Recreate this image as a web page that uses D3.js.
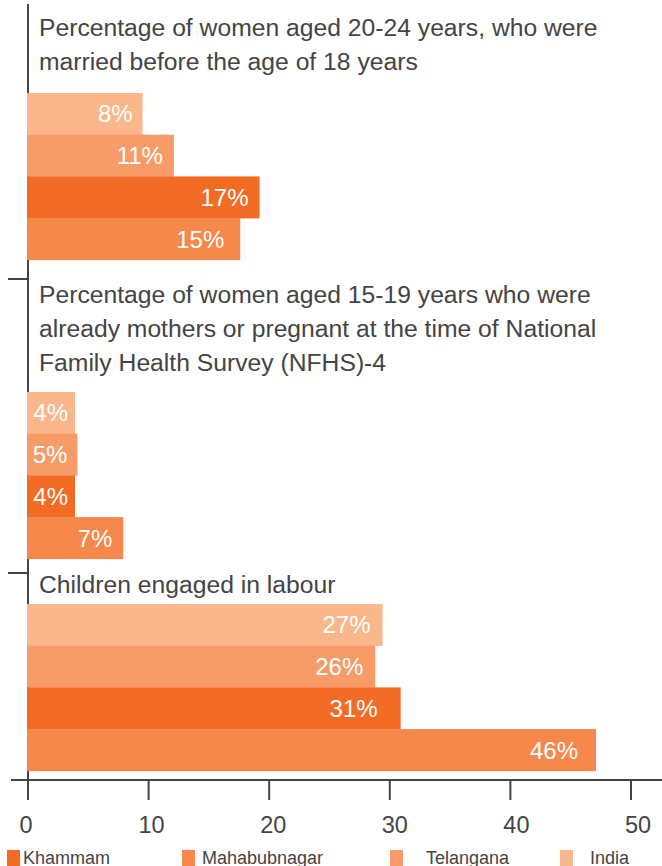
<!DOCTYPE html>
<html>
<head>
<meta charset="utf-8">
<script src="https://cdn.jsdelivr.net/npm/d3@7"></script>
<style>
  body { margin: 0; background: #fff; }
  svg { display: block; font-family: "Liberation Sans", Arial, sans-serif; }
</style>
</head>
<body>
<div id="chart"></div>
<script>
// bar order top to bottom inside each group
const series = ['India', 'Telangana', 'Khammam', 'Mahabubnagar'];
const legendOrder = ['Khammam', 'Mahabubnagar', 'Telangana', 'India'];
const colors = ['#f9b78b', '#f79b69', '#f36c25', '#f5884a'];

const titles = [
  ['Percentage of women aged 20-24 years, who were', 'married before the age of 18 years'],
  ['Percentage of women aged 15-19 years who were', 'already mothers or pregnant at the time of National', 'Family Health Survey (NFHS)-4'],
  ['Children engaged in labour']
];

// bar lengths as drawn, one per group
const indiaValues = [9.5, 3.9, 29.4];
const telanganaValues = [12.1, 4.1, 28.8];
const khammamValues = [19.2, 3.9, 30.9];
const mahabubnagarValues = [17.6, 7.9, 47.1];

// printed labels
const indiaLabels = ['8%', '4%', '27%'];
const telanganaLabels = ['11%', '5%', '26%'];
const khammamLabels = ['17%', '4%', '31%'];
const mahabubnagarLabels = ['15%', '7%', '46%'];

const xTicks = [0, 10, 20, 30, 40, 50];

const values = [indiaValues, telanganaValues, khammamValues, mahabubnagarValues];
const labels = [indiaLabels, telanganaLabels, khammamLabels, mahabubnagarLabels];

const width = 662, height = 866;
const axisColor = '#444';
const textColor = '#444';

// layout of the three groups
const bandEdges = [4, 279, 573, 780];
const titleFirstBaseline = [35.7, 302.7, 592.7];
const lineH = 34;
const barsTop = [93, 392, 604];
const barH = 41.7;
// gap between bar end and its label, per series then group
const labelPad = [[10, 7, 12], [11, 10, 12], [11, 7, 23], [16, 11, 18]];

const x = d3.scaleLinear().domain([0, 50]).range([28, 631]);

const svg = d3.select('#chart').append('svg')
  .attr('width', width).attr('height', height);

// axes first so the bars cover the axis line
svg.append('line')
  .attr('x1', 28).attr('x2', 28)
  .attr('y1', bandEdges[0]).attr('y2', 800)
  .attr('stroke', axisColor).attr('stroke-width', 2);

svg.selectAll('.ytick')
  .data(bandEdges.slice(1, 3))
  .enter().append('line')
  .attr('class', 'ytick')
  .attr('x1', 8).attr('x2', 28)
  .attr('y1', d => d).attr('y2', d => d)
  .attr('stroke', axisColor).attr('stroke-width', 2);

const xAxis = svg.append('g').attr('transform', 'translate(0,' + bandEdges[3] + ')');
xAxis.append('line')
  .attr('x1', 11).attr('x2', width)
  .attr('stroke', axisColor).attr('stroke-width', 2);
xAxis.selectAll('.xtick')
  .data(xTicks)
  .enter().append('line')
  .attr('x1', d => x(d)).attr('x2', d => x(d))
  .attr('y1', 0).attr('y2', 20)
  .attr('stroke', axisColor).attr('stroke-width', 2);
xAxis.selectAll('.xlabel')
  .data(xTicks)
  .enter().append('text')
  .attr('x', d => x(d) + (d === 0 ? -2 : 2 + d / 10))
  .attr('y', 53)
  .attr('text-anchor', 'middle')
  .attr('fill', textColor)
  .style('font-size', '23.5px')
  .text(d => d);

titles.forEach(function (lines, gi) {
  const g = svg.append('g');

  g.selectAll('text.title')
    .data(lines)
    .enter().append('text')
    .attr('x', 39)
    .attr('y', (d, i) => titleFirstBaseline[gi] + i * lineH)
    .attr('fill', textColor)
    .style('font-size', '24.7px')
    .text(d => d);

  const y = d3.scaleBand().domain(series).range([barsTop[gi], barsTop[gi] + barH * series.length]);

  const rows = series.map((s, i) => ({
    s: s, v: values[i][gi], label: labels[i][gi], color: colors[i], pad: labelPad[i][gi]
  }));

  g.selectAll('rect')
    .data(rows)
    .enter().append('rect')
    .attr('x', x(0) - 1)
    .attr('y', d => y(d.s))
    .attr('width', d => x(d.v) - x(0) + 1)
    .attr('height', y.bandwidth() + 0.3)
    .attr('fill', d => d.color);

  g.selectAll('text.val')
    .data(rows)
    .enter().append('text')
    .attr('class', 'val')
    .attr('x', d => x(d.v) - d.pad)
    .attr('y', d => y(d.s) + y.bandwidth() / 2)
    .attr('dy', '0.36em')
    .attr('text-anchor', 'end')
    .attr('fill', '#fff')
    .style('font-size', '24px')
    .text(d => d.label);
});

// legend
const legendX = [7, 182, 390, 560];
const legendTextX = [23, 202, 426, 590];
const legend = svg.append('g');
legendOrder.forEach(function (name, i) {
  legend.append('rect')
    .attr('x', legendX[i]).attr('y', 850)
    .attr('width', 13).attr('height', 16)
    .attr('fill', colors[series.indexOf(name)]);
  legend.append('text')
    .attr('x', legendTextX[i]).attr('y', 864)
    .attr('fill', textColor)
    .style('font-size', '18px')
    .text(name);
});
</script>
</body>
</html>
